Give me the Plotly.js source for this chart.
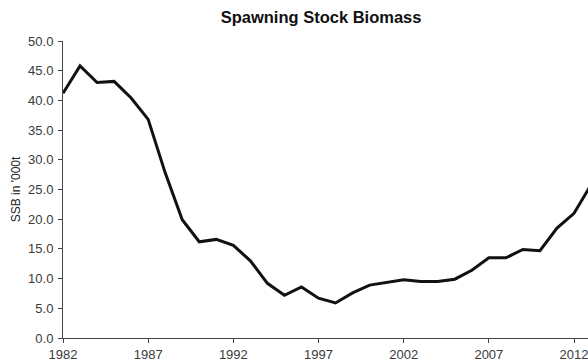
<!DOCTYPE html>
<html>
<head>
<meta charset="utf-8">
<script src="https://cdn.plot.ly/plotly-3.0.1.min.js"></script>
<style>
html,body{margin:0;padding:0;background:#fff;overflow:hidden;}
#chart{width:588px;height:363px;}
</style>
</head>
<body>
<div id="chart"></div>
<script>
const years = [1982,1983,1984,1985,1986,1987,1988,1989,1990,1991,1992,1993,1994,1995,1996,1997,1998,1999,2000,2001,2002,2003,2004,2005,2006,2007,2008,2009,2010,2011,2012,2013];
const ssb = [41.2,45.8,43.0,43.2,40.4,36.8,27.8,19.9,16.2,16.6,15.6,13.0,9.2,7.2,8.6,6.7,5.9,7.6,8.9,9.3,9.8,9.5,9.5,9.9,11.4,13.5,13.5,14.9,14.7,18.5,21.0,25.8];
const xTickVals = [1982,1987,1992,1997,2002,2007,2012];
const yTickVals = [0,5,10,15,20,25,30,35,40,45,50];

const trace = {
  x: years, y: ssb, type: 'scatter', mode: 'lines',
  line: {color: '#111111', width: 3},
  hoverinfo: 'skip'
};

const layout = {
  width: 588, height: 363,
  margin: {l: 63, r: 0, t: 41, b: 25, pad: 0},
  paper_bgcolor: '#ffffff', plot_bgcolor: '#ffffff',
  showlegend: false,
  font: {family: 'Liberation Sans, Arial, sans-serif', color: '#333333', size: 12},
  title: {
    text: '<b>Spawning Stock Biomass</b>',
    font: {family: 'Liberation Sans, Arial, sans-serif', size: 16.5, color: '#111111'},
    xref: 'container', x: 0.546, xanchor: 'center',
    yref: 'container', y: 0.953, yanchor: 'middle'
  },
  xaxis: {
    range: [1982, 2012.82],
    tickvals: xTickVals,
    ticktext: xTickVals.map(String),
    showgrid: false, zeroline: false,
    showline: true, linecolor: '#444444', linewidth: 1,
    ticks: 'outside', ticklen: 4, tickcolor: '#444444',
    ticklabeloverflow: 'allow',
    tickfont: {size: 13, color: '#3a3a3a'},
    fixedrange: true
  },
  yaxis: {
    range: [0, 50],
    tickvals: yTickVals,
    tickformat: '.1f',
    showgrid: false, zeroline: false,
    showline: true, linecolor: '#444444', linewidth: 1,
    ticks: 'outside', ticklen: 4, tickcolor: '#444444',
    ticklabelstandoff: 2,
    tickfont: {size: 13, color: '#3a3a3a'},
    title: {text: "SSB in '000t", font: {size: 12, color: '#222222'}, standoff: 4},
    fixedrange: true
  }
};

Plotly.newPlot('chart', [trace], layout, {displayModeBar: false, staticPlot: true});
</script>
</body>
</html>
